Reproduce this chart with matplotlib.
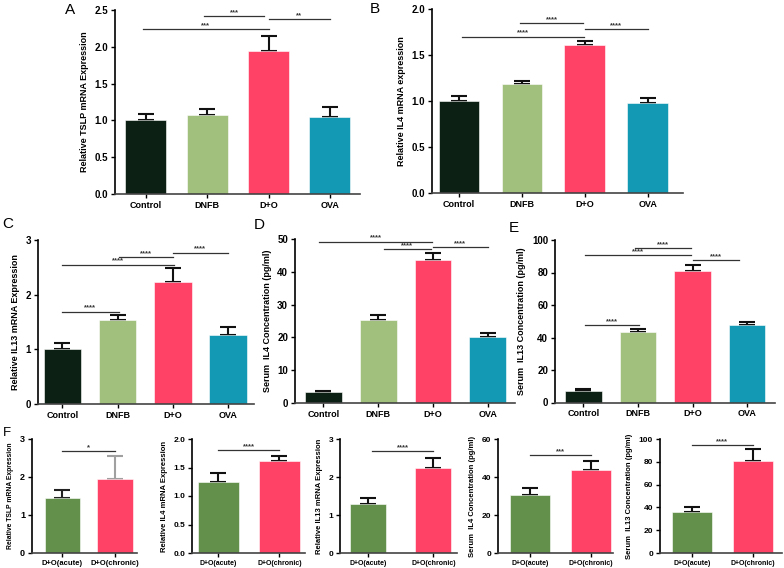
import matplotlib
matplotlib.use('Agg')
import matplotlib.pyplot as plt
import numpy as np

plt.rcParams['font.family'] = ['Liberation Sans', 'DejaVu Sans']
plt.rcParams['font.weight'] = 'bold'
plt.rcParams['axes.labelweight'] = 'bold'

W, H = 784, 568

# ---- data ----
groups = ['Control', 'DNFB', 'D+O', 'OVA']
group_colors = ['#0c2013', '#a1c07d', '#ff4266', '#1399b3']

tslp_mean = [1.01, 1.07, 1.94, 1.05]
tslp_top = [1.09, 1.15, 2.15, 1.18]
il4_mean = [1.00, 1.19, 1.61, 0.98]
il4_top = [1.05, 1.22, 1.65, 1.03]
il13_mean = [1.00, 1.53, 2.24, 1.26]
il13_top = [1.12, 1.62, 2.48, 1.40]
sil4_mean = [3.3, 25.2, 43.5, 20.1]
sil4_top = [3.7, 26.7, 45.7, 21.3]
sil13_mean = [6.8, 43.1, 81.2, 47.8]
sil13_top = [8.2, 45.2, 84.7, 49.5]

stages = ['D+O(acute)', 'D+O(chronic)']
stage_colors = ['#63904a', '#ff4266']
f_tslp_mean = [1.45, 1.95]
f_tslp_top = [1.65, 2.55]
f_il4_mean = [1.25, 1.61]
f_il4_top = [1.40, 1.71]
f_il13_mean = [1.28, 2.24]
f_il13_top = [1.44, 2.50]
f_sil4_mean = [30.3, 43.5]
f_sil4_top = [34.0, 48.5]
f_sil13_mean = [36.0, 81.0]
f_sil13_top = [40.5, 91.0]

# significance brackets: (start, end, height, label)
sig_a = [(-0.04, 2.0, 2.24, '***'), (0.95, 1.93, 2.42, '***'), (2.0, 3.0, 2.38, '**')]
sig_b = [(0.05, 1.98, 1.70, '****'), (0.97, 1.97, 1.85, '****'), (2.0, 3.0, 1.78, '****')]
sig_c = [(0.0, 1.02, 1.69, '****'), (0.0, 2.03, 2.55, '****'),
         (1.03, 2.0, 2.68, '****'), (2.0, 3.0, 2.77, '****')]
sig_d = [(-0.08, 1.99, 49.2, '****'), (1.1, 1.97, 47.0, '****'), (2.0, 3.0, 47.6, '****')]
sig_e = [(0.03, 1.97, 90.8, '****'), (0.94, 1.97, 95.1, '****'),
         (2.0, 2.85, 87.7, '****'), (0.03, 1.02, 47.7, '****')]


def make_ax(x0, x1, ytop, ybot):
    return fig.add_axes([x0 / W, 1 - ybot / H, (x1 - x0) / W, (ybot - ytop) / H])


def panel(ax, names, colors, mean, top, sigs, ylim, yticks, yfmt, ylabel,
          width=0.67, xlim=(-0.5, 3.5), tick_fs=7, xlab_fs=6.5, ylab_fs=6.5,
          ecolors=None, star_fs=5.5):
    x = np.arange(len(names))
    ax.bar(x, mean, width=width, color=colors, edgecolor='white', linewidth=0.4, zorder=2)
    if ecolors is None:
        ecolors = ['#111111'] * len(names)
    for i in range(len(names)):
        ax.errorbar(x[i], mean[i], yerr=[[0], [top[i] - mean[i]]], fmt='none',
                    ecolor=ecolors[i], elinewidth=1.5, capsize=6, capthick=1.5, zorder=1)
    for s, e, h, lab in sigs:
        ax.plot([s, e], [h, h], color='#333333', lw=0.9, clip_on=False)
        ax.text((s + e) / 2, h, lab, ha='center', va='bottom', fontsize=star_fs,
                color='#333333')
    ax.set_xlim(*xlim)
    ax.set_ylim(*ylim)
    ax.set_yticks(yticks)
    ax.set_yticklabels([yfmt % v for v in yticks], fontsize=tick_fs)
    ax.set_xticks(x)
    ax.set_xticklabels(names, fontsize=xlab_fs)
    ax.set_ylabel(ylabel, fontsize=ylab_fs)
    for side in ['top', 'right']:
        ax.spines[side].set_visible(False)
    ax.spines['left'].set_linewidth(1.2)
    ax.spines['bottom'].set_linewidth(1.2)
    ax.spines['bottom'].set_color('#444444')
    ax.tick_params(axis='both', direction='out', length=3, width=1, pad=2)


fig = plt.figure(figsize=(W / 100, H / 100), dpi=100)

# A
ax = make_ax(115, 360, 10, 194)
panel(ax, groups, group_colors, tslp_mean, tslp_top, sig_a, (0, 2.5),
      [0, 0.5, 1.0, 1.5, 2.0, 2.5], '%.1f', 'Relative TSLP mRNA Expression',
      xlim=(-0.5, 3.49))
# B
ax = make_ax(432, 683, 9, 193)
panel(ax, groups, group_colors, il4_mean, il4_top, sig_b, (0, 2.0),
      [0, 0.5, 1.0, 1.5, 2.0], '%.1f', 'Relative IL4 mRNA expression',
      width=0.65, xlim=(-0.43, 3.56))
# C
ax = make_ax(38, 254, 240, 404)
panel(ax, groups, group_colors, il13_mean, il13_top, sig_c, (0, 3),
      [0, 1, 2, 3], '%d', 'Relative IL13 mRNA Expression',
      width=0.68, xlim=(-0.44, 3.47))
# D
ax = make_ax(295, 515, 239, 403)
panel(ax, groups, group_colors, sil4_mean, sil4_top, sig_d, (0, 50),
      [0, 10, 20, 30, 40, 50], '%d', 'Serum  IL4 Concentration (pg/ml)',
      xlim=(-0.52, 3.5))
# E
ax = make_ax(555, 775, 240, 402.5)
panel(ax, groups, group_colors, sil13_mean, sil13_top, sig_e, (0, 100),
      [0, 20, 40, 60, 80, 100], '%d', 'Serum  IL13 Concentration (pg/ml)',
      xlim=(-0.52, 3.51))

# F row
ax = make_ax(32, 137, 439, 553)
panel(ax, stages, stage_colors, f_tslp_mean, f_tslp_top, [(0, 1.0, 2.68, '*')], (0, 3),
      [0, 1, 2, 3], '%d', 'Relative TSLP mRNA Expression', xlim=(-0.58, 1.42),
      tick_fs=6.5, xlab_fs=5.5, ylab_fs=4.9, ecolors=['#222222', '#a0a0a0'])
ax = make_ax(192, 305, 439, 553)
panel(ax, stages, stage_colors, f_il4_mean, f_il4_top, [(0, 1.0, 1.81, '****')], (0, 2.0),
      [0, 0.5, 1.0, 1.5, 2.0], '%.1f', 'Relative IL4 mRNA Expression', xlim=(-0.43, 1.42),
      tick_fs=6, xlab_fs=5, ylab_fs=5.5)
ax = make_ax(340, 457, 439, 553)
panel(ax, stages, stage_colors, f_il13_mean, f_il13_top, [(0.06, 1.0, 2.68, '****')], (0, 3),
      [0, 1, 2, 3], '%d', 'Relative IL13 mRNA Expression', width=0.55, xlim=(-0.43, 1.36),
      tick_fs=6, xlab_fs=5, ylab_fs=5.5)
ax = make_ax(498, 613, 439, 553)
panel(ax, stages, stage_colors, f_sil4_mean, f_sil4_top, [(0, 1.0, 51.6, '***')], (0, 60),
      [0, 20, 40, 60], '%d', 'Serum  IL4 Concentration (pg/ml)', width=0.66,
      xlim=(-0.52, 1.36), tick_fs=6, xlab_fs=5, ylab_fs=5.5)
ax = make_ax(660, 782, 439, 553)
panel(ax, stages, stage_colors, f_sil13_mean, f_sil13_top, [(0, 1.0, 94.7, '****')], (0, 100),
      [0, 20, 40, 60, 80, 100], '%d', 'Serum  IL13 Concentration (pg/ml)', width=0.66,
      xlim=(-0.52, 1.48), tick_fs=6, xlab_fs=5, ylab_fs=5.5)

# panel letters
for lab, px, py, fs in [('A', 70, 10, 11), ('B', 375, 9, 11), ('C', 8, 224, 11),
                        ('D', 259, 225, 11), ('E', 514, 228, 11), ('F', 7, 433, 9.5)]:
    fig.text(px / W, 1 - py / H, lab, fontsize=fs, fontweight='normal',
             ha='center', va='center')

fig.savefig('out.png', dpi=100)
